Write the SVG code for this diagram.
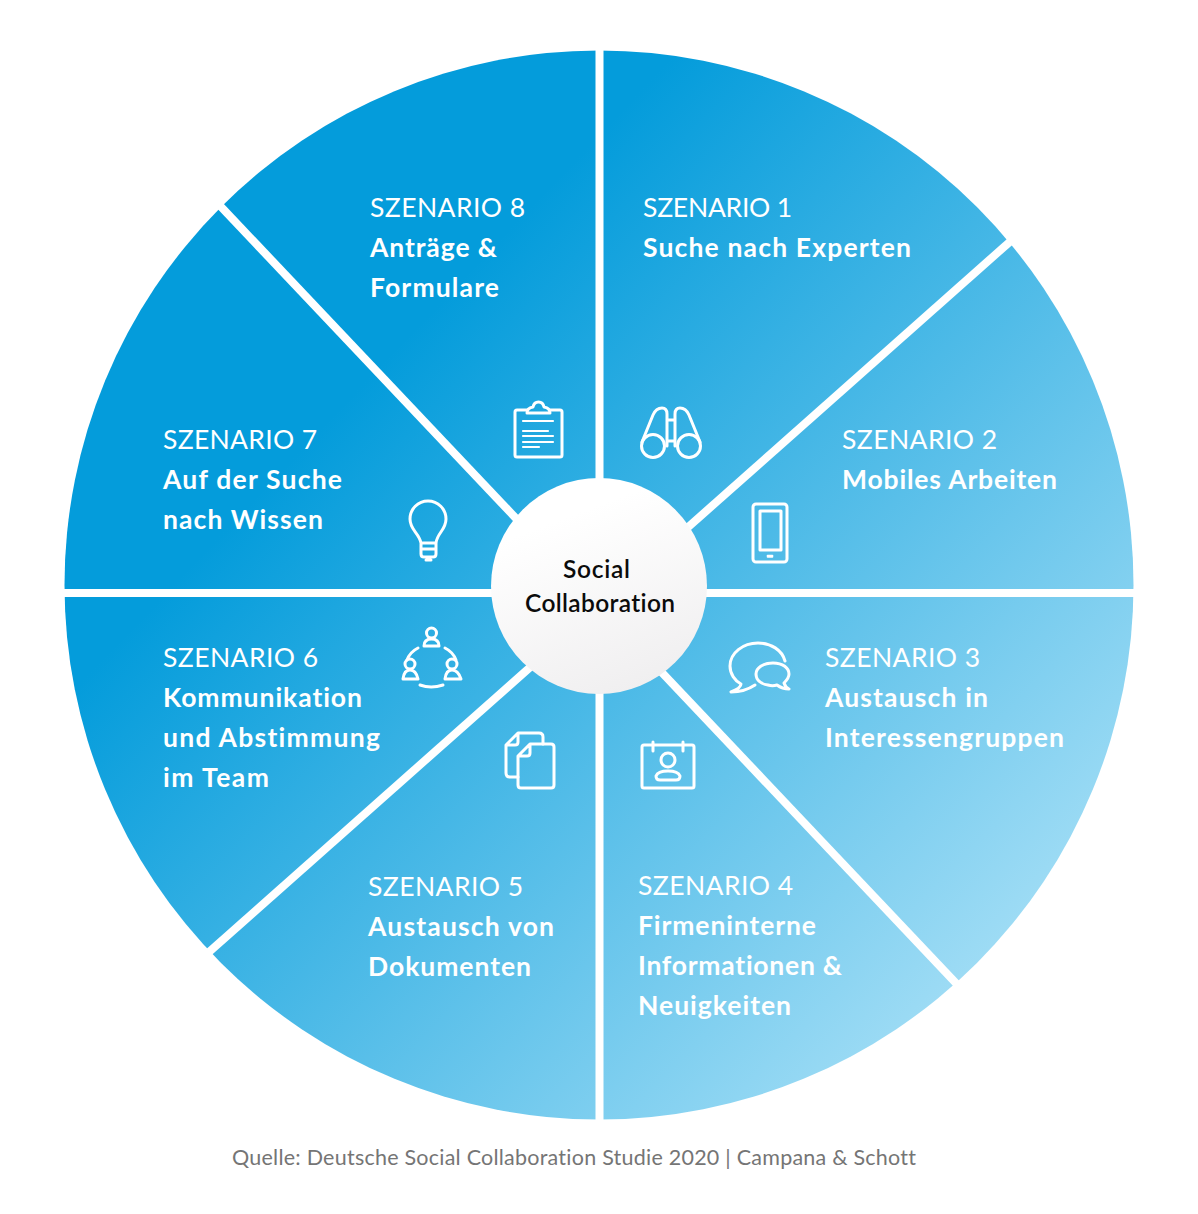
<svg xmlns="http://www.w3.org/2000/svg" width="1198" height="1214" viewBox="0 0 1198 1214">
<style>
text{font-family:"Lato","Liberation Sans",sans-serif;font-variant-ligatures:none}
.h{font-size:26.5px;font-weight:400;fill:#fff}
.b{font-size:26.5px;font-weight:700;fill:#fff}
.c{font-size:24.5px;font-weight:600;fill:#0b0b0b}
.f{font-size:21.5px;fill:#757575}
.i{fill:none;stroke:#fff;stroke-width:3;stroke-linecap:round;stroke-linejoin:round}
.sep{stroke:#fff;stroke-width:8;fill:none}
</style>
<defs>
<linearGradient id="wheel" gradientUnits="userSpaceOnUse" x1="400" y1="345" x2="1050" y2="960"><stop offset="0" stop-color="#049cdb"/><stop offset="1" stop-color="#a6dff6"/></linearGradient>
<linearGradient id="hub" x1="0.3" y1="0.2" x2="0.6" y2="1"><stop offset="0" stop-color="#fff"/><stop offset="1" stop-color="#f0eff0"/></linearGradient>
</defs>
<circle id="wheel-disc" cx="599" cy="585" r="534.500" fill="url(#wheel)"/>
<g id="connectors">
<line class="sep" x1="599.5" y1="40" x2="599.5" y2="1130"/>
<line class="sep" x1="55" y1="593" x2="1145" y2="593"/>
<line class="sep" x1="1022" y1="231" x2="200" y2="960"/>
<line class="sep" x1="208" y1="193" x2="970" y2="998"/>
</g>
<g id="hub-node"><circle cx="599" cy="586" r="108" fill="url(#hub)"/>
<text class="c" x="563" y="578" textLength="67" lengthAdjust="spacing">Social</text>
<text class="c" x="525" y="612" textLength="150" lengthAdjust="spacing">Collaboration</text></g>
<g id="s1"><text class="h" x="643" y="217" textLength="149">SZENARIO 1</text><text class="b" x="643" y="257" textLength="268">Suche nach Experten</text>
<g class="i"><circle cx="653" cy="446" r="11.5"/><circle cx="689" cy="446" r="11.5"/><path d="M642 442L653 415Q656 408 662 408Q667 408 667 414V446M700 442L689 415Q686 408 680 408Q675 408 675 414V446M667 420H675M667 441H675"/></g></g>
<g id="s2"><text class="h" x="842" y="449" textLength="155">SZENARIO 2</text><text class="b" x="842" y="489" textLength="215">Mobiles Arbeiten</text>
<g class="i"><rect x="753" y="504" width="34" height="58" rx="3"/><rect x="760" y="511" width="21" height="39"/><rect x="767.500" y="555.500" width="5" height="1.500" stroke-width="1.500"/></g></g>
<g id="s3"><text class="h" x="825" y="667" textLength="155">SZENARIO 3</text><text class="b" x="825" y="707" textLength="163">Austausch in</text><text class="b" x="825" y="747" textLength="239">Interessengruppen</text>
<g class="i"><path d="M785 661C782 650 771 643 758 643C743 643 730 653 730 666C730 674 735 681 741 684C741 687 736 690 731 692C740 692 749 689 755 685"/><path d="M773 663C783 663 789 668 789 674C789 678 786 681 784 683C785 686 787 688 789 689C785 689 781 688 777 685C774 686 771 686 768 685C761 684 756 680 756 674C756 668 763 663 773 663Z"/></g></g>
<g id="s4"><text class="h" x="638" y="895" textLength="155">SZENARIO 4</text><text class="b" x="638" y="935" textLength="178">Firmeninterne</text><text class="b" x="638" y="975" textLength="204">Informationen &amp;</text><text class="b" x="638" y="1015" textLength="153">Neuigkeiten</text>
<g class="i"><rect x="642" y="745" width="52" height="43" rx="2"/><path d="M653 742V751M683 742V751"/><circle cx="668" cy="760" r="7"/><path d="M660 780Q656 780 656 776Q658 771 668 771Q678 771 680 776Q680 780 676 780Z"/></g></g>
<g id="s5"><text class="h" x="368" y="896" textLength="155">SZENARIO 5</text><text class="b" x="368" y="936" textLength="186">Austausch von</text><text class="b" x="368" y="976" textLength="163">Dokumenten</text>
<g class="i"><path d="M518 777H510Q506 777 506 773V745L518 733H539Q543 733 543 737V744M506 745H515Q518 745 518 742V733"/><path d="M530 744H551Q554 744 554 747V785Q554 788 551 788H521Q518 788 518 785V756ZM518 756H527Q530 756 530 753V744"/></g></g>
<g id="s6"><text class="h" x="163" y="667" textLength="155">SZENARIO 6</text><text class="b" x="163" y="707" textLength="199">Kommunikation</text><text class="b" x="163" y="747" textLength="217">und Abstimmung</text><text class="b" x="163" y="787" textLength="106">im Team</text>
<g class="i"><circle cx="431.500" cy="633" r="5"/><path d="M424 646Q424 639 431.500 639Q439 639 439 646ZM403 679Q404 670 410 670Q416 670 418 679Z"/><circle cx="410" cy="664" r="5"/><circle cx="452" cy="664" r="5"/><path d="M445 679Q446 670 452 670Q458 670 461 679ZM418 648Q410 652 407 660M445 648Q453 652 456 660M420 685Q431 689 443 685"/></g></g>
<g id="s7"><text class="h" x="163" y="449" textLength="154">SZENARIO 7</text><text class="b" x="163" y="489" textLength="179">Auf der Suche</text><text class="b" x="163" y="529" textLength="160">nach Wissen</text>
<g class="i"><path d="M421 543C419 533 410 530 410 519C410 509 418 501 428 501C438 501 446 509 446 519C446 530 437 533 436 543ZM421 543V554Q421 557 424 557H433Q436 557 436 554V543M421 549H436M426 560H431"/></g></g>
<g id="s8"><text class="h" x="370" y="217" textLength="155">SZENARIO 8</text><text class="b" x="370" y="257" textLength="127">Anträge &amp;</text><text class="b" x="370" y="297" textLength="129">Formulare</text>
<g class="i"><path d="M527 410H517Q515 410 515 412V455Q515 457 517 457H560Q562 457 562 455V412Q562 410 560 410H550"/><path d="M527 413Q527 408 533 407Q534 402 538.500 402Q543 402 544 407Q550 408 550 413Z"/><path d="M523 421H553M523 431H548M523 436H553M523 442H553M523 447H539" stroke-width="2.200"/></g></g>
<text id="source" class="f" x="232" y="1165" textLength="684">Quelle: Deutsche Social Collaboration Studie 2020 | Campana &amp; Schott</text>
</svg>
